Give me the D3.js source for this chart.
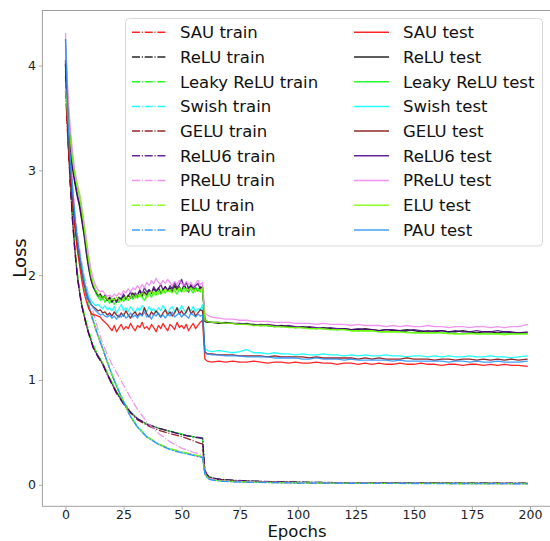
<!DOCTYPE html>
<html><head><meta charset="utf-8">
<script src="https://cdn.jsdelivr.net/npm/d3@7"></script>
<style>html,body{margin:0;padding:0;background:#fff;} svg{display:block;font-family:"DejaVu Sans",sans-serif;}</style>
</head><body><svg id="chart" width="550" height="541"></svg>
<script>
const activations = ["SAU","ReLU","Leaky ReLU","Swish","GELU","ReLU6","PReLU","ELU","PAU"];
const colors = ["#ff0000","#000000","#00ff00","#00ffff","#800000","#4b0082","#ee82ee","#7cfc00","#1e90ff"];
const xTicks = [0,25,50,75,100,125,150,175,200];
const yTicks = [0,1,2,3,4];

const trainEpochs = [0,1,2,3,4,5,6,7,8,9,10,12,14,16,18,20,22,25,28,31,35,40,45,50,55,58,59,60,61,62,63,65,68,72,80,90,100,120,140,160,180,199];
const testEpochs = [0,1,2,3,4,5,6,7,8,9,10,11,12,13,14,15,16,17,18,19,20,21,22,23,24,25,26,27,28,29,30,31,32,33,34,35,36,37,38,39,40,41,42,43,44,45,46,47,48,49,50,51,52,53,54,55,56,57,58,59,60,61,
  63,66,69,72,75,78,81,84,87,90,93,96,99,102,105,108,111,114,117,120,123,126,129,132,135,138,141,144,147,150,153,156,159,162,165,168,171,174,177,180,183,186,189,192,195,199];

// train losses
const sauTrain = [4.05,3.58,3.14,2.79,2.51,2.31,2.14,2.00,1.89,1.79,1.70,1.55,1.42,1.30,1.17,1.05,0.94,0.79,0.65,0.55,0.46,0.39,0.34,0.31,0.285,0.27,0.265,0.11,0.07,0.056,0.05,0.042,0.036,0.031,0.026,0.022,0.019,0.016,0.014,0.013,0.012,0.011];
const reluTrain = [4.02,3.40,2.92,2.55,2.26,2.02,1.85,1.72,1.62,1.53,1.45,1.31,1.23,1.16,1.06,0.97,0.88,0.78,0.69,0.63,0.58,0.54,0.51,0.48,0.455,0.445,0.44,0.13,0.09,0.075,0.066,0.056,0.048,0.042,0.034,0.028,0.024,0.020,0.018,0.016,0.015,0.014];
const leakyTrain = [3.98,3.42,2.95,2.58,2.29,2.05,1.88,1.74,1.64,1.55,1.47,1.33,1.24,1.16,1.07,0.98,0.89,0.79,0.70,0.63,0.58,0.54,0.51,0.485,0.46,0.45,0.445,0.13,0.09,0.075,0.066,0.056,0.048,0.042,0.034,0.028,0.024,0.020,0.018,0.016,0.015,0.014];
const swishTrain = [4.18,3.62,3.16,2.81,2.53,2.33,2.16,2.02,1.91,1.81,1.72,1.57,1.43,1.31,1.18,1.06,0.95,0.80,0.66,0.56,0.46,0.39,0.34,0.31,0.285,0.272,0.268,0.11,0.07,0.056,0.05,0.042,0.036,0.031,0.026,0.022,0.019,0.016,0.014,0.013,0.012,0.011];
const geluTrain = [3.76,3.30,2.88,2.52,2.24,2.01,1.84,1.71,1.61,1.52,1.44,1.31,1.22,1.15,1.05,0.96,0.88,0.78,0.69,0.62,0.57,0.52,0.49,0.46,0.42,0.395,0.39,0.12,0.085,0.07,0.062,0.053,0.046,0.04,0.033,0.027,0.023,0.019,0.017,0.015,0.014,0.013];
const relu6Train = [4.01,3.38,2.90,2.53,2.24,2.00,1.84,1.71,1.61,1.52,1.44,1.30,1.22,1.15,1.05,0.96,0.87,0.77,0.69,0.63,0.58,0.54,0.51,0.48,0.46,0.45,0.445,0.14,0.095,0.078,0.068,0.058,0.05,0.044,0.036,0.030,0.025,0.021,0.019,0.017,0.016,0.015];
const preluTrain = [4.31,3.70,3.25,2.90,2.63,2.42,2.26,2.12,2.00,1.90,1.81,1.64,1.48,1.35,1.24,1.15,1.07,0.95,0.83,0.72,0.60,0.49,0.41,0.35,0.31,0.295,0.29,0.12,0.08,0.064,0.056,0.047,0.04,0.035,0.029,0.024,0.021,0.018,0.016,0.014,0.013,0.012];
const eluTrain = [3.95,3.55,3.12,2.78,2.50,2.30,2.14,2.01,1.90,1.80,1.71,1.56,1.42,1.30,1.17,1.05,0.94,0.79,0.65,0.55,0.46,0.39,0.345,0.315,0.29,0.275,0.27,0.11,0.072,0.058,0.051,0.043,0.037,0.032,0.027,0.022,0.019,0.016,0.014,0.013,0.012,0.011];
const pauTrain = [4.25,3.65,3.18,2.82,2.54,2.33,2.15,2.01,1.90,1.80,1.71,1.56,1.42,1.30,1.17,1.05,0.94,0.79,0.65,0.55,0.455,0.385,0.335,0.305,0.28,0.265,0.26,0.10,0.065,0.052,0.046,0.039,0.033,0.029,0.024,0.02,0.017,0.015,0.013,0.012,0.011,0.01];

// test losses
const sauTest = [3.90,3.30,2.95,2.72,2.45,2.25,2.10,1.95,1.83,1.75, 1.68,1.64,1.62,1.62,1.61,1.60,1.57,1.55,1.53,1.50,
  1.47,1.52,1.46,1.50,1.53,1.48,1.51,1.49,1.54,1.50, 1.47,1.52,1.50,1.55,1.49,1.51,1.48,1.53,1.50,1.46,
  1.52,1.49,1.54,1.50,1.47,1.53,1.51,1.48,1.55,1.50, 1.52,1.49,1.53,1.47,1.51,1.54,1.49,1.52,1.55,1.57,
  1.20,1.18,
  1.17,1.18,1.17,1.18,1.17,1.17,1.18,1.17,1.16,1.17, 1.17,1.16,1.17,1.16,1.16,1.17,1.16,1.16,1.15,1.16,
  1.16,1.15,1.16,1.15,1.16,1.15,1.15,1.16,1.15,1.15, 1.16,1.15,1.15,1.14,1.15,1.15,1.14,1.15,1.15,1.14,
  1.15,1.14,1.15,1.14,1.14,1.13];
const reluTest = [4.00,3.55,3.25,3.02,2.88,2.76,2.66,2.52,2.38,2.20, 2.06,1.95,1.88,1.84,1.80,1.82,1.78,1.80,1.76,1.79,
  1.75,1.77,1.74,1.78,1.76,1.80,1.77,1.81,1.78,1.83, 1.79,1.82,1.85,1.80,1.84,1.81,1.86,1.83,1.87,1.84,
  1.88,1.83,1.86,1.89,1.85,1.88,1.84,1.90,1.86,1.89, 1.85,1.91,1.87,1.84,1.90,1.86,1.88,1.85,1.89,1.87,
  1.56,1.55,
  1.55,1.54,1.55,1.54,1.53,1.54,1.52,1.53,1.52,1.51, 1.52,1.51,1.50,1.51,1.50,1.49,1.50,1.49,1.48,1.49,
  1.48,1.48,1.49,1.48,1.47,1.48,1.47,1.47,1.48,1.47, 1.46,1.47,1.46,1.47,1.46,1.46,1.47,1.46,1.45,1.46,
  1.46,1.45,1.46,1.45,1.45,1.45];
const leakyTest = [3.85,3.60,3.35,3.12,2.95,2.84,2.76,2.60,2.42,2.25, 2.10,1.98,1.90,1.83,1.79,1.76,1.80,1.74,1.78,1.73,
  1.77,1.72,1.76,1.74,1.79,1.75,1.78,1.76,1.80,1.77, 1.81,1.78,1.82,1.79,1.76,1.80,1.83,1.79,1.84,1.81,
  1.85,1.82,1.86,1.83,1.87,1.84,1.88,1.85,1.82,1.87, 1.84,1.88,1.85,1.89,1.86,1.83,1.88,1.86,1.84,1.88,
  1.58,1.56,
  1.55,1.55,1.54,1.54,1.53,1.53,1.53,1.52,1.52,1.51, 1.51,1.51,1.50,1.50,1.49,1.49,1.49,1.48,1.48,1.48,
  1.47,1.47,1.47,1.47,1.46,1.46,1.46,1.46,1.46,1.45, 1.45,1.45,1.45,1.45,1.45,1.44,1.44,1.45,1.44,1.44,
  1.44,1.44,1.44,1.44,1.44,1.44];
const swishTest = [4.15,3.45,3.05,2.78,2.55,2.38,2.22,2.10,1.97,1.86, 1.80,1.76,1.73,1.71,1.72,1.70,1.68,1.71,1.67,1.69,
  1.66,1.70,1.64,1.68,1.72,1.66,1.69,1.65,1.70,1.67, 1.64,1.69,1.66,1.71,1.67,1.65,1.70,1.66,1.68,1.64,
  1.69,1.66,1.71,1.67,1.64,1.68,1.70,1.65,1.69,1.66, 1.71,1.67,1.64,1.69,1.66,1.70,1.65,1.68,1.67,1.72,
  1.30,1.28,
  1.27,1.28,1.27,1.26,1.27,1.29,1.26,1.26,1.25,1.26, 1.25,1.25,1.24,1.25,1.24,1.24,1.25,1.24,1.24,1.23,
  1.24,1.23,1.24,1.23,1.23,1.24,1.23,1.23,1.22,1.23, 1.23,1.22,1.23,1.22,1.23,1.22,1.22,1.23,1.22,1.22,
  1.23,1.22,1.22,1.21,1.22,1.23];
const geluTest = [4.05,3.40,3.00,2.74,2.52,2.33,2.18,2.04,1.92,1.83, 1.76,1.72,1.70,1.68,1.66,1.67,1.64,1.65,1.62,1.64,
  1.61,1.65,1.62,1.60,1.64,1.61,1.66,1.62,1.59,1.63, 1.65,1.61,1.64,1.62,1.69,1.63,1.60,1.65,1.62,1.66,
  1.63,1.60,1.64,1.67,1.62,1.65,1.61,1.64,1.69,1.63, 1.66,1.62,1.65,1.70,1.63,1.66,1.61,1.64,1.67,1.66,
  1.27,1.25,
  1.25,1.24,1.24,1.24,1.23,1.23,1.23,1.23,1.22,1.23, 1.22,1.22,1.22,1.22,1.21,1.22,1.21,1.21,1.21,1.21,
  1.21,1.20,1.21,1.20,1.21,1.20,1.20,1.20,1.21,1.20, 1.20,1.20,1.19,1.20,1.20,1.19,1.20,1.20,1.19,1.20,
  1.19,1.20,1.19,1.20,1.19,1.20];
const relu6Test = [4.02,3.58,3.28,3.05,2.90,2.78,2.68,2.55,2.40,2.24, 2.08,1.97,1.89,1.85,1.81,1.79,1.77,1.81,1.76,1.78,
  1.74,1.78,1.75,1.79,1.77,1.82,1.78,1.80,1.84,1.79, 1.83,1.80,1.86,1.82,1.88,1.84,1.86,1.83,1.89,1.85,
  1.87,1.91,1.86,1.89,1.85,1.90,1.87,1.93,1.88,1.91, 1.96,1.89,1.93,1.87,1.91,1.88,1.90,1.92,1.87,1.89,
  1.57,1.56,
  1.55,1.55,1.54,1.54,1.54,1.53,1.53,1.52,1.53,1.52, 1.51,1.52,1.51,1.50,1.51,1.50,1.49,1.50,1.49,1.49,
  1.48,1.49,1.48,1.48,1.47,1.48,1.48,1.47,1.47,1.48, 1.47,1.46,1.47,1.47,1.46,1.47,1.46,1.46,1.47,1.46,
  1.46,1.47,1.46,1.46,1.45,1.46];
const preluTest = [4.20,3.75,3.42,3.18,3.00,2.88,2.78,2.65,2.50,2.34, 2.18,2.05,1.96,1.90,1.86,1.84,1.85,1.82,1.80,1.81,
  1.79,1.82,1.80,1.83,1.81,1.85,1.83,1.87,1.84,1.88, 1.86,1.90,1.87,1.91,1.88,1.93,1.90,1.95,1.92,1.97,
  1.93,1.91,1.95,1.92,1.96,1.93,1.90,1.94,1.91,1.95, 1.92,1.90,1.94,1.91,1.93,1.89,1.92,1.95,1.91,1.93,
  1.64,1.62,
  1.60,1.59,1.58,1.58,1.57,1.57,1.56,1.56,1.56,1.55, 1.55,1.55,1.54,1.54,1.54,1.53,1.54,1.53,1.53,1.53,
  1.52,1.53,1.52,1.52,1.52,1.51,1.52,1.51,1.52,1.51, 1.51,1.52,1.51,1.51,1.50,1.51,1.51,1.50,1.51,1.51,
  1.50,1.51,1.50,1.51,1.51,1.53];
const eluTest = [3.78,3.52,3.30,3.10,2.96,2.86,2.78,2.64,2.47,2.30, 2.14,2.00,1.92,1.86,1.82,1.79,1.77,1.80,1.77,1.75,
  1.78,1.76,1.79,1.77,1.75,1.78,1.80,1.77,1.79,1.81, 1.78,1.82,1.79,1.83,1.81,1.78,1.82,1.85,1.81,1.84,
  1.82,1.86,1.83,1.87,1.84,1.86,1.83,1.87,1.85,1.88, 1.86,1.84,1.87,1.85,1.88,1.86,1.84,1.87,1.85,1.88,
  1.57,1.56,
  1.55,1.55,1.54,1.54,1.53,1.53,1.52,1.52,1.52,1.51, 1.51,1.50,1.50,1.50,1.49,1.49,1.49,1.48,1.48,1.48,
  1.47,1.47,1.47,1.47,1.46,1.46,1.46,1.46,1.45,1.45, 1.45,1.45,1.45,1.45,1.44,1.44,1.44,1.44,1.44,1.44,
  1.44,1.44,1.43,1.44,1.44,1.44];
const pauTest = [4.25,3.50,3.08,2.80,2.56,2.36,2.20,2.06,1.94,1.84, 1.77,1.72,1.69,1.66,1.64,1.62,1.63,1.61,1.60,1.62,
  1.59,1.61,1.58,1.62,1.60,1.63,1.59,1.61,1.64,1.60, 1.62,1.59,1.63,1.61,1.65,1.60,1.62,1.58,1.63,1.61,
  1.64,1.60,1.62,1.59,1.63,1.61,1.65,1.60,1.62,1.64, 1.60,1.63,1.61,1.59,1.64,1.62,1.60,1.63,1.61,1.62,
  1.26,1.25,
  1.24,1.24,1.23,1.23,1.23,1.22,1.22,1.22,1.22,1.21, 1.21,1.21,1.21,1.20,1.20,1.21,1.20,1.20,1.20,1.19,
  1.20,1.19,1.19,1.19,1.19,1.19,1.18,1.19,1.18,1.18, 1.18,1.18,1.18,1.18,1.17,1.18,1.18,1.17,1.18,1.17,
  1.17,1.18,1.17,1.17,1.17,1.18];

const trainSeries = [sauTrain, reluTrain, leakyTrain, swishTrain, geluTrain, relu6Train, preluTrain, eluTrain, pauTrain];
const testSeries = [sauTest, reluTest, leakyTest, swishTest, geluTest, relu6Test, preluTest, eluTest, pauTest];

const svg = d3.select("#chart");
const pLeft = 42.4, pRight = 550.8, pTop = 10.5, pBottom = 506.3;
const x = d3.scaleLinear().domain([-9.95, 208.95]).range([pLeft, pRight]);
const y = d3.scaleLinear().domain([-0.205, 4.525]).range([pBottom, pTop]);

svg.append("defs").append("clipPath").attr("id","plotclip")
  .append("rect").attr("x", pLeft).attr("y", pTop).attr("width", pRight-pLeft).attr("height", pBottom-pTop);

const plot = svg.append("g").attr("clip-path","url(#plotclip)");
const line = d3.line().x(d => x(d[0])).y(d => y(d[1]));
const dash = "8,1.8,1.1,1.8";
const lw = 1.3, op = 0.85;

trainSeries.forEach((vals, i) => {
  plot.append("path").datum(d3.zip(trainEpochs, vals))
    .attr("d", line).attr("fill","none").attr("stroke", colors[i])
    .attr("stroke-width", lw).attr("stroke-opacity", op)
    .attr("stroke-dasharray", dash).attr("stroke-linejoin","round");
});
testSeries.forEach((vals, i) => {
  plot.append("path").datum(d3.zip(testEpochs, vals))
    .attr("d", line).attr("fill","none").attr("stroke", colors[i])
    .attr("stroke-width", lw).attr("stroke-opacity", op).attr("stroke-linejoin","round");
});

// axes
const spine = "#a0a0a0";
const xAxis = d3.axisBottom(x).tickValues(xTicks).tickSize(3.5).tickPadding(0).tickFormat(d3.format("d"));
const yAxis = d3.axisLeft(y).tickValues(yTicks).tickSize(3.5).tickPadding(3).tickFormat(d3.format("d"));
const gx = svg.append("g").attr("transform", `translate(0,${pBottom})`).call(xAxis);
const gy = svg.append("g").attr("transform", `translate(${pLeft},0)`).call(yAxis);
[gx, gy].forEach(g => {
  g.select(".domain").remove();
  g.selectAll(".tick line").attr("stroke", spine).attr("stroke-width", 0.9);
  g.selectAll(".tick text").attr("fill", "#222").style("font-size","12.5px").style("font-family","DejaVu Sans");
});
svg.append("rect").attr("x", pLeft).attr("y", pTop).attr("width", pRight-pLeft).attr("height", pBottom-pTop)
  .attr("fill","none").attr("stroke", spine).attr("stroke-width", 1);

svg.append("text").attr("x", 297).attr("y", 537).attr("text-anchor","middle")
  .style("font-size","16.5px").attr("fill","#111").text("Epochs");
svg.append("text").attr("transform","translate(26,258) rotate(-90)").attr("text-anchor","middle")
  .style("font-size","18px").attr("fill","#111").text("Loss");

// legend
const lg = svg.append("g");
lg.append("rect").attr("x",125.5).attr("y",18.5).attr("width",417).attr("height",227.5).attr("rx",4)
  .attr("fill","#fff").attr("fill-opacity",0.85).attr("stroke","#d9d9d9").attr("stroke-width",1);
const rowY = i => 32.3 + i*24.7;
activations.forEach((a, i) => {
  const cols = [{lx:132, tx:180, label: a + " train", dashed:true},{lx:354, tx:403, label: a + " test", dashed:false}];
  cols.forEach(c => {
    const ln = lg.append("line").attr("x1", c.lx).attr("x2", c.lx+35).attr("y1", rowY(i)).attr("y2", rowY(i))
      .attr("stroke", colors[i]).attr("stroke-width", lw+0.2).attr("stroke-opacity", op);
    if (c.dashed) ln.attr("stroke-dasharray", dash);
    lg.append("text").attr("x", c.tx).attr("y", rowY(i)).attr("dy","0.36em")
      .style("font-size","16.5px").attr("fill","#111").text(c.label);
  });
});
</script></body></html>
